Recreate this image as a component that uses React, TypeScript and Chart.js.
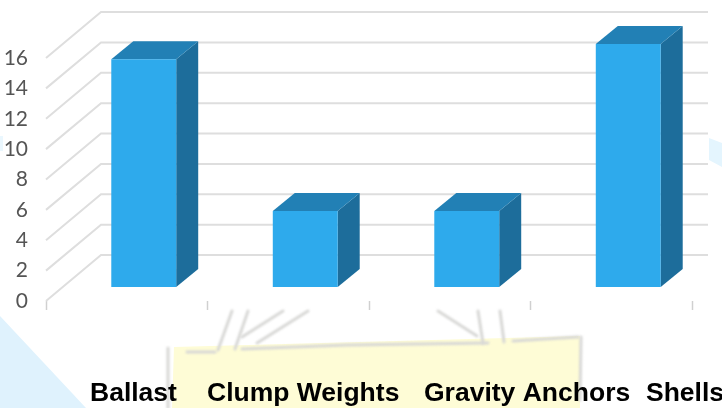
import React, { useEffect, useRef } from "react";
import { Chart, registerables } from "chart.js";

Chart.register(...registerables);

const categories = ["Ballast", "Clump Weights", "Gravity Anchors", "Shells"];
const values = [15, 5, 5, 16];
const yMax = 16;
const yStep = 2;
const labelLefts = [90, 207, 424, 646];

const DEPTH = { wallDx: 55, wallDy: 46, wallRight: 708, barDx: 22, barDy: 18, shiftX: 17, shiftY: 14 };
const COLORS = { front: "#2eaaec", top: "#2280b5", side: "#1d6d9b", grid: "#dedede", tick: "#d0d0d0", text: "#555555" };

function poly(ctx: CanvasRenderingContext2D, pts: number[][], fill: string) {
  ctx.beginPath();
  pts.forEach((p, i) => (i ? ctx.lineTo(p[0], p[1]) : ctx.moveTo(p[0], p[1])));
  ctx.closePath();
  ctx.fillStyle = fill;
  ctx.fill();
}

function stroke(ctx: CanvasRenderingContext2D, pts: number[][]) {
  ctx.beginPath();
  pts.forEach((p, i) => (i ? ctx.lineTo(p[0], p[1]) : ctx.moveTo(p[0], p[1])));
  ctx.stroke();
}

const backdrop = {
  id: "backdrop",
  beforeDraw(chart: any) {
    const ctx: CanvasRenderingContext2D = chart.ctx;
    ctx.save();
    poly(ctx, [[0, 316], [86, 408], [0, 408]], "#dff2fd");
    poly(ctx, [[709, 138], [722, 143], [722, 167], [709, 160]], "#e4f5fe");
    poly(ctx, [[0, 136], [3, 136], [3, 151], [0, 151]], "#eaf7fe");
    poly(ctx, [[174, 347], [580, 336], [580, 408], [172, 408]], "#fefcd6");
    ctx.filter = "blur(0.8px)";
    ctx.strokeStyle = "#d8d8d6";
    ctx.lineWidth = 3;
    ctx.lineCap = "round";
    const marks = [
      [[232, 311], [218, 350]],
      [[248, 311], [235, 349]],
      [[283, 311], [242, 337]],
      [[308, 311], [257, 343]],
      [[187, 352], [215, 352]],
      [[242, 349], [347, 345], [488, 343]],
      [[513, 341], [578, 337]],
      [[581, 337], [580, 400]],
      [[168, 348], [168, 408]],
      [[438, 311], [477, 336]],
      [[478, 311], [483, 343]],
      [[500, 311], [504, 342]],
    ];
    marks.forEach((m) => stroke(ctx, m));
    ctx.restore();
  },
};

const threeD = {
  id: "threeD",
  beforeDatasetsDraw(chart: any) {
    const ctx: CanvasRenderingContext2D = chart.ctx;
    const y = chart.scales.y;
    const left = chart.chartArea.left;
    ctx.save();
    ctx.filter = "blur(0.5px)";
    ctx.strokeStyle = COLORS.grid;
    ctx.lineWidth = 2;
    y.ticks.forEach((t: any) => {
      const py = y.getPixelForValue(t.value);
      stroke(ctx, [
        [left, py],
        [left + DEPTH.wallDx, py - DEPTH.wallDy],
        [DEPTH.wallRight, py - DEPTH.wallDy],
      ]);
    });
    ctx.restore();
  },
  beforeDatasetDraw(chart: any, args: any) {
    const ctx: CanvasRenderingContext2D = chart.ctx;
    ctx.save();
    ctx.translate(DEPTH.shiftX, -DEPTH.shiftY);
    args.meta.data.forEach((bar: any) => {
      const l = bar.x - bar.width / 2;
      const r = bar.x + bar.width / 2;
      const dx = DEPTH.barDx;
      const dy = DEPTH.barDy;
      poly(ctx, [[r, bar.y], [r + dx, bar.y - dy], [r + dx, bar.base - dy], [r, bar.base]], COLORS.side);
      poly(ctx, [[l, bar.y], [l + dx, bar.y - dy], [r + dx, bar.y - dy], [r, bar.y]], COLORS.top);
    });
  },
  afterDatasetDraw(chart: any) {
    chart.ctx.restore();
  },
  afterDraw(chart: any) {
    const ctx: CanvasRenderingContext2D = chart.ctx;
    ctx.save();
    ctx.font = "bold 26.5px 'Liberation Sans', Arial, sans-serif";
    ctx.fillStyle = "#000";
    ctx.textAlign = "left";
    ctx.textBaseline = "alphabetic";
    chart.data.labels.forEach((label: string, i: number) => {
      ctx.fillText(label, labelLefts[i], 401);
    });
    ctx.restore();
  },
};

export default function App() {
  const ref = useRef<HTMLCanvasElement>(null);
  useEffect(() => {
    const chart = new Chart(ref.current!, {
      type: "bar",
      data: {
        labels: categories,
        datasets: [
          {
            data: values,
            backgroundColor: COLORS.front,
            barPercentage: 0.402,
            categoryPercentage: 1,
            clip: false as any,
          },
        ],
      },
      plugins: [backdrop, threeD],
      options: {
        animation: false,
        responsive: false,
        devicePixelRatio: 1,
        layout: { padding: { top: 58, right: 30, left: 0, bottom: 0 } },
        plugins: { legend: { display: false }, tooltip: { enabled: false }, title: { display: false } },
        scales: {
          x: {
            offset: true,
            border: { display: false },
            grid: { drawOnChartArea: false, drawTicks: true, tickLength: 9, tickWidth: 1.5, tickColor: COLORS.tick, offset: true },
            ticks: { display: false },
            afterFit: (s: any) => {
              s.height = 107;
            },
          },
          y: {
            min: 0,
            max: yMax,
            border: { display: false },
            grid: { display: false },
            ticks: {
              stepSize: yStep,
              padding: 10,
              color: COLORS.text,
              font: { family: "Lato", size: 21 },
            },
            afterFit: (s: any) => {
              s.width = 46;
            },
          },
        },
      },
    } as any);
    return () => chart.destroy();
  }, []);
  return (
    <canvas
      ref={ref}
      width={722}
      height={408}
      style={{ position: "absolute", left: 0, top: 0, width: 722, height: 408, display: "block" }}
    />
  );
}
